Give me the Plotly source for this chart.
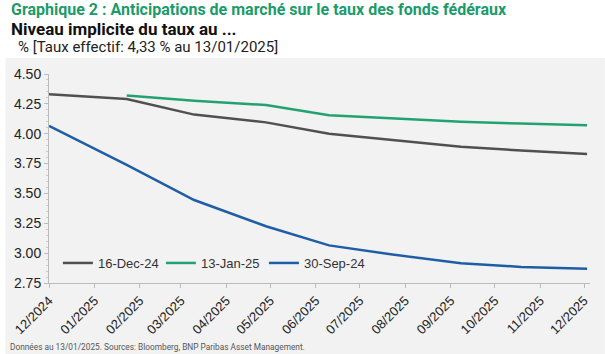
import plotly.graph_objects as go

dates = ["2024-12-01", "2025-01-23", "2025-03-10", "2025-04-28", "2025-06-10",
         "2025-07-22", "2025-09-08", "2025-10-19", "2025-12-03"]
dec16 = [4.33, 4.29, 4.16, 4.095, 4.00, 3.95, 3.89, 3.86, 3.83]
jan13 = [None, 4.32, 4.275, 4.24, 4.155, 4.13, 4.10, 4.085, 4.07]
sep30 = [4.065, 3.74, 3.445, 3.225, 3.065, 2.99, 2.915, 2.885, 2.87]

series_names = ["16-Dec-24", "13-Jan-25", "30-Sep-24"]
series_vals = [dec16, jan13, sep30]
colors = ["#505050", "#23a271", "#1f5ea6"]

W, H = 605, 354
L, R, T, B = 44, 15, 74, 71
pw, ph = W - L - R, H - T - B

def px_y(y):
    return (H - B - y) / ph

def px_x(x):
    return (x - L) / pw

fig = go.Figure()
for name, vals, c in zip(series_names, series_vals, colors):
    fig.add_trace(go.Scatter(x=dates, y=vals, name=name, mode="lines",
                             line=dict(color=c, width=2.5), connectgaps=False))

fig.add_shape(type="rect", xref="paper", yref="paper", layer="below",
              x0=px_x(0), x1=px_x(W), y0=px_y(H), y1=px_y(58),
              fillcolor="#f2f2f2", line=dict(width=0))

ann = [
    dict(text="<b>Graphique 2 : Anticipations de marché sur le taux des fonds fédéraux</b>",
         x=px_x(4), y=px_y(10), font=dict(size=16, color="#1a9b6a", family="Roboto")),
    dict(text="<b>Niveau implicite du taux au ...</b>",
         x=px_x(4), y=px_y(29), font=dict(size=17, color="#111111", family="Roboto")),
    dict(text="% [Taux effectif: 4,33 % au 13/01/2025]",
         x=px_x(11), y=px_y(47), font=dict(size=15, color="#222222", family="Roboto")),
    dict(text="Données au 13/01/2025. Sources: Bloomberg, BNP Paribas Asset Management.",
         x=px_x(3), y=px_y(347), font=dict(size=8.3, color="#555555", family="Roboto")),
]
for a in ann:
    fig.add_annotation(xref="paper", yref="paper", xanchor="left", yanchor="middle",
                       showarrow=False, **a)

fig.update_layout(
    width=W, height=H, margin=dict(l=L, r=R, t=T, b=B),
    paper_bgcolor="white", plot_bgcolor="#f2f2f2",
    font=dict(family="Liberation Sans", color="#333333"),
    showlegend=True,
    legend=dict(orientation="h", x=px_x(53), y=px_y(263), xanchor="left", yanchor="middle",
                bgcolor="rgba(0,0,0,0)", entrywidth=58, entrywidthmode="pixels",
                font=dict(size=13, color="#333333", family="Liberation Sans")),
)
fig.update_xaxes(type="date", range=["2024-12-01", "2025-12-05"], dtick="M1",
                 tick0="2024-12-01", tickformat="%m/%Y", tickangle=-45,
                 showgrid=False, zeroline=False, showline=True, linecolor="#bbbbbb",
                 ticks="outside", ticklen=4, tickcolor="#bbbbbb",
                 tickfont=dict(size=13, color="#222222", family="Liberation Sans"))
fig.update_yaxes(range=[2.75, 4.5], dtick=0.25, tickformat=".2f",
                 showgrid=False, zeroline=False, showline=True, linecolor="#bbbbbb",
                 ticks="outside", ticklen=4, tickcolor="#bbbbbb",
                 minor=dict(dtick=0.05, ticks="outside", ticklen=2, tickcolor="#cccccc"),
                 tickfont=dict(size=14, color="#222222", family="Liberation Sans"))

fig.write_html("out.html")
